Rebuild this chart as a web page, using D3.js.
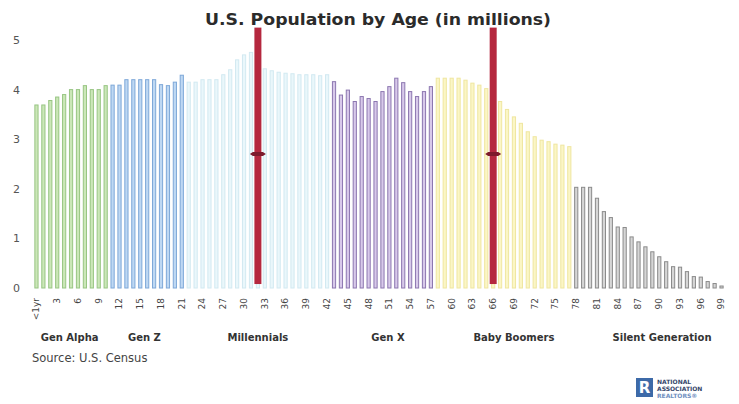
<!DOCTYPE html>
<html>
<head>
<meta charset="utf-8">
<script src="https://cdn.jsdelivr.net/npm/d3@7"></script>
<style>
  html, body { margin: 0; padding: 0; background: #fff; }
  svg { display: block; }
</style>
</head>
<body>
<svg id="chart" width="739" height="404"></svg>
<script>
// Population by single year of age, in millions (ages 0..99)
const ages = d3.range(0, 100);
const population = [
  3.69, 3.69, 3.78, 3.85, 3.90, 4.00, 4.00, 4.08, 4.00, 4.00,
  4.08, 4.09, 4.09, 4.20, 4.20, 4.20, 4.20, 4.20, 4.10, 4.08,
  4.15, 4.29, 4.15, 4.15, 4.20, 4.20, 4.20, 4.30, 4.40, 4.60,
  4.70, 4.75, 4.60, 4.42, 4.38, 4.35, 4.33, 4.32, 4.30, 4.30,
  4.30, 4.28, 4.30, 4.16, 3.89, 3.99, 3.76, 3.86, 3.82, 3.76,
  3.96, 4.06, 4.23, 4.14, 3.96, 3.86, 3.96, 4.06, 4.23, 4.23,
  4.23, 4.23, 4.19, 4.13, 4.09, 4.02, 3.95, 3.76, 3.60, 3.45,
  3.32, 3.15, 3.05, 2.98, 2.95, 2.90, 2.88, 2.85, 2.03, 2.03,
  2.03, 1.81, 1.54, 1.42, 1.23, 1.22, 1.03, 0.93, 0.83, 0.73,
  0.63, 0.53, 0.43, 0.42, 0.33, 0.23, 0.22, 0.13, 0.09, 0.04
];

// Generations: name, first age, last age, label anchor age
const genNames   = ["Gen Alpha", "Gen Z", "Millennials", "Gen X", "Baby Boomers", "Silent Generation"];
const genStart   = [0, 11, 22, 43, 58, 78];
const genEnd     = [10, 21, 42, 57, 77, 99];
const genLabelAt = [4.8, 15.6, 32, 50.8, 69, 90.4];
const genFill    = ["#cbe7b8", "#bed8f3", "#eaf7fb", "#d8c9ea", "#fbf6c6", "#d6d6d6"];
const genStroke  = ["#98c583", "#7ea8d8", "#d2e9f1", "#8c77b0", "#efe6a0", "#8b8b8b"];

// Highlighted ages (red markers)
const markerAges = [32, 66];
const markerTop = 5.25;
const markerTick = 2.7;

// Axis ticks
const yTicks = [0, 1, 2, 3, 4, 5];
const xTickAges = d3.range(0, 100, 3);
const xTickLabels = xTickAges.map(a => a === 0 ? "<1yr" : String(a));

const svg = d3.select("#chart");

const x = d3.scaleBand().domain(ages).range([33, 725]).padding(0);
const step = x.step();
const xc = a => x(0) + step * a + step / 2;   // centre of an age (fractional allowed)
const y = d3.scaleLinear().domain([0, 5]).range([288, 40]);

const genOf = a => genStart.findIndex((s, i) => a >= s && a <= genEnd[i]);

// Title
svg.append("text")
  .attr("x", 378).attr("y", 25)
  .attr("text-anchor", "middle")
  .attr("font-family", "'DejaVu Sans', sans-serif")
  .attr("font-weight", "bold")
  .attr("font-size", 16)
  .attr("fill", "#2b2b2b")
  .attr("textLength", 346)
  .attr("lengthAdjust", "spacingAndGlyphs")
  .text("U.S. Population by Age (in millions)");

// Y axis (labels only)
const yAxis = d3.axisLeft(y).tickValues(yTicks).tickSize(0).tickPadding(0).tickFormat(d3.format("d"));
const gy = svg.append("g").attr("transform", "translate(20,0)").call(yAxis);
gy.select(".domain").remove();
gy.selectAll("text")
  .attr("font-family", "'DejaVu Sans', sans-serif")
  .attr("font-size", 11)
  .attr("fill", "#555");

// Bars
const barW = 3.2;
svg.append("g").selectAll("rect")
  .data(ages)
  .join("rect")
  .attr("x", a => x(a) + (step - barW) / 2)
  .attr("y", a => y(population[a]))
  .attr("width", barW)
  .attr("height", a => y(0) - y(population[a]))
  .attr("fill", a => genFill[genOf(a)])
  .attr("stroke", a => genStroke[genOf(a)])
  .attr("stroke-width", 1);

// Red markers
const mg = svg.append("g");
mg.selectAll("rect")
  .data(markerAges)
  .join("rect")
  .attr("x", a => xc(a) - 3.5)
  .attr("y", y(markerTop))
  .attr("width", 7)
  .attr("height", y(0.08) - y(markerTop))
  .attr("fill", "#b5283f");
mg.selectAll("path")
  .data(markerAges)
  .join("path")
  .attr("d", a => {
    const cx = xc(a), cy = y(markerTick);
    return `M${cx - 8},${cy} L${cx - 5},${cy - 2} L${cx + 5},${cy - 2} L${cx + 8},${cy} L${cx + 5},${cy + 2} L${cx - 5},${cy + 2} Z`;
  })
  .attr("fill", "#7d1a2c");

// X axis labels (rotated)
const xAxis = d3.axisBottom(x)
  .tickValues(xTickAges)
  .tickSize(0)
  .tickFormat((d, i) => xTickLabels[i]);
const gx = svg.append("g").attr("transform", `translate(0,${y(0)})`).call(xAxis);
gx.select(".domain").remove();
gx.selectAll("text")
  .attr("font-family", "'DejaVu Sans', sans-serif")
  .attr("font-size", 9)
  .attr("fill", "#444")
  .attr("text-anchor", "end")
  .attr("dy", "0.32em")
  .attr("transform", "translate(0,10) rotate(-90)")
  .attr("x", 0)
  .attr("y", 0);

// Generation labels
svg.append("g").selectAll("text")
  .data(genNames)
  .join("text")
  .attr("x", (d, i) => xc(genLabelAt[i]))
  .attr("y", 341)
  .attr("text-anchor", "middle")
  .attr("font-family", "'DejaVu Sans', sans-serif")
  .attr("font-weight", "bold")
  .attr("font-size", 10)
  .attr("fill", "#333")
  .text(d => d);

// Source
svg.append("text")
  .attr("x", 32).attr("y", 362)
  .attr("font-family", "'DejaVu Sans', sans-serif")
  .attr("font-size", 11.5)
  .attr("fill", "#444")
  .text("Source: U.S. Census");

// Logo block
const logo = svg.append("g").attr("transform", "translate(636,378)");
logo.append("rect").attr("width", 17).attr("height", 19).attr("fill", "#3d6aa8");
logo.append("text").attr("x", 8.5).attr("y", 15)
  .attr("text-anchor", "middle")
  .attr("font-family", "'DejaVu Sans', sans-serif")
  .attr("font-weight", "bold").attr("font-size", 15).attr("fill", "#fff").text("R");
["NATIONAL", "ASSOCIATION", "REALTORS®"].forEach((t, i) => {
  logo.append("text").attr("x", 21).attr("y", 6 + i * 7)
    .attr("font-family", "'DejaVu Sans', sans-serif")
    .attr("font-weight", "bold").attr("font-size", 6)
    .attr("fill", i === 2 ? "#6f8fc0" : "#34466a").text(t);
});
</script>
</body>
</html>
